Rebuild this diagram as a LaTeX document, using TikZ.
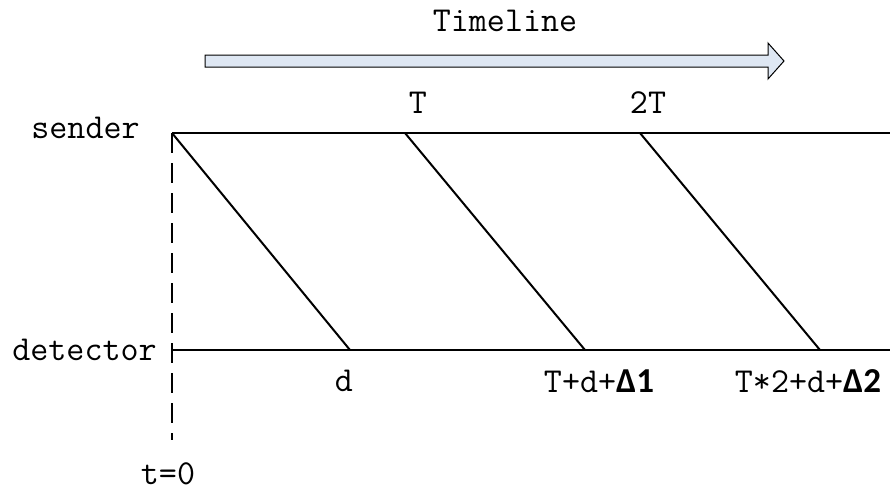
\documentclass[tikz,border=0pt]{standalone}
\usepackage{fontspec}
\newfontfamily\deltafont{Carlito}
\definecolor{arrowfill}{RGB}{222,231,243}
\tikzset{
  lbl/.style={font=\ttfamily\fontsize{17.5}{20}\selectfont, inner sep=0pt},
  timeaxis/.style={line width=1pt},
  signal/.style={line width=1pt},
}
\newcommand{\dlt}[1]{{\deltafont\bfseries\fontsize{17.5}{20}\selectfont Δ#1}}
\begin{document}
\begin{tikzpicture}[x=0.5pt,y=-0.5pt]
\useasboundingbox (0,0) rectangle (894,495);

% timeline arrow
\node[lbl] (title) at (505,21) {Timeline};
\draw[fill=arrowfill, line width=0.5pt] (205,55) -- (768,55) -- (768,43) -- (784,61)
  -- (768,79) -- (768,67) -- (205,67) -- cycle;

% axes
\coordinate (s0) at (172,133);
\coordinate (s1) at (890,133);
\coordinate (d0) at (172,350);
\coordinate (d1) at (890,350);
\coordinate (t0) at (172,440);
\node[lbl, anchor=east] (sender) at (140,128) {sender};
\node[lbl, anchor=east] (detector) at (157,350) {detector};
\draw[timeaxis] (s0) -- (s1);
\draw[timeaxis] (d0) -- (d1);
\draw[line width=1pt, dash pattern=on 10pt off 5pt] (s0) -- (t0);
\node[lbl] (tzero) at (168,474) {t=0};

% sent and received signals
\coordinate (sT) at (405,133);
\coordinate (s2T) at (640,133);
\coordinate (rd) at (350,350);
\coordinate (rT) at (585,350);
\coordinate (r2T) at (820,350);
\draw[signal] (s0) -- (rd);
\draw[signal] (sT) -- (rT);
\draw[signal] (s2T) -- (r2T);

\node[lbl] (labT) at (418,103) {T};
\node[lbl] (lab2T) at (648,103) {2T};
\node[lbl] (labd) at (344,381) {d};
\node[lbl] (labTd) at (599,381) {T+d+\dlt{1}};
\node[lbl] (lab2Td) at (808,381) {T*2+d+\dlt{2}};
\end{tikzpicture}
\end{document}
